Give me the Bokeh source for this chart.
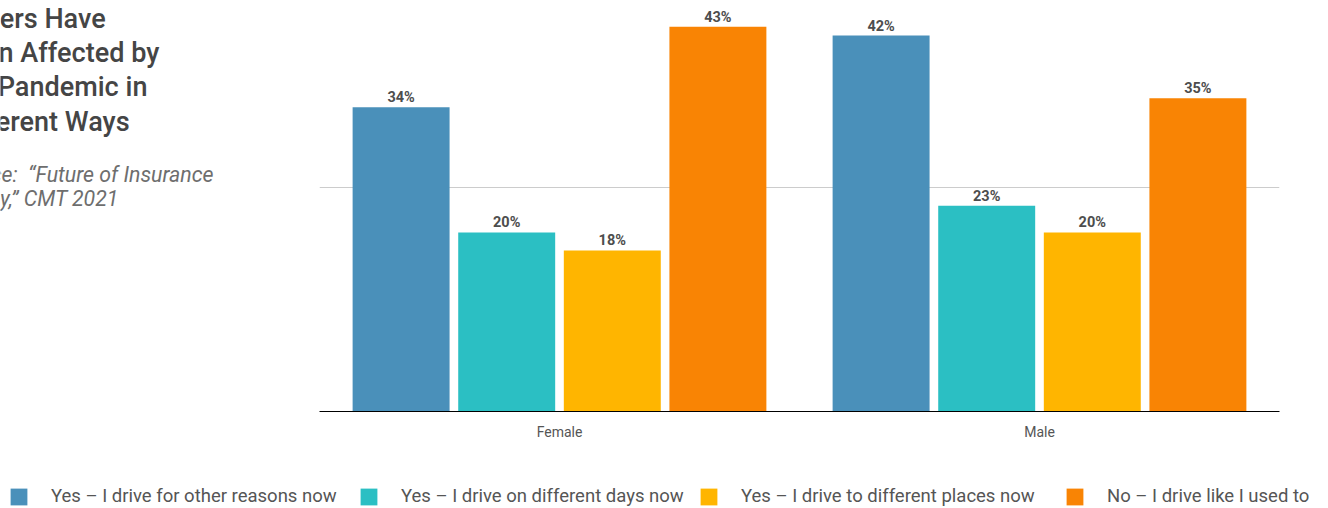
from bokeh.plotting import figure
from bokeh.layouts import column, row
from bokeh.models import (ColumnDataSource, FactorRange, Range1d, Label, Legend,
                          LegendItem, FixedTicker, Grid)
from bokeh.transform import dodge
from bokeh.core.properties import value
from bokeh.embed import file_html
from bokeh.resources import INLINE

# ---- data -------------------------------------------------------------
genders = ["Female", "Male"]
series_names = [
    "Yes \u2013 I drive for other reasons now",
    "Yes \u2013 I drive on different days now",
    "Yes \u2013 I drive to different places now",
    "No \u2013 I drive like I used to",
]
other_reasons = [34, 42]
different_days = [20, 23]
different_places = [18, 20]
like_before = [43, 35]
series_values = [other_reasons, different_days, different_places, like_before]
series_colors = ["#4a90ba", "#2bbfc3", "#ffb500", "#f98404"]
grid_ticks = [25]

title_lines = ["Drivers Have", "Been Affected by", "the Pandemic in", "Different Ways"]
source_lines = ["Source: \u00a0\u201cFuture of Insurance", "Survey,\u201d CMT 2021"]

FONT = "Roboto"
TITLE_FONT = "'Roboto Medium', Roboto"
TEXT_COLOR = "#555555"

# ---- sizes of the three panels --------------------------------------------
TOTAL_W, TOTAL_H = 1328, 508
LEFT_W = 319          # column holding title and source
TOP_H = 460           # chart (411 px frame + axis labels)
FRAME_H = 411
RIGHT_PAD = 49
SIDE_BOTTOM = 420     # where the text column's frame ends inside the row


def bare(fig):
    fig.outline_line_color = None
    fig.background_fill_color = "white"
    fig.border_fill_color = "white"
    return fig


NO_BORDER = dict(min_border=0, min_border_left=0, min_border_right=0,
                 min_border_top=0, min_border_bottom=0)

# ---- title / source column ----------------------------------------------
side = bare(figure(width=LEFT_W, height=TOP_H, title=None,
                   x_axis_type=None, y_axis_type=None,
                   x_range=Range1d(0, LEFT_W), y_range=Range1d(0, TOP_H),
                   output_backend="svg", toolbar_location=None, **NO_BORDER))
side.grid.visible = False
for line, base in zip(title_lines, [27, 61.3, 95.6, 130]):
    side.add_layout(Label(x=-48, y=SIDE_BOTTOM - base, x_units="screen", y_units="screen",
                          text=line, text_font=TITLE_FONT, text_font_size="27px",
                          text_color="#454545", text_baseline="alphabetic"))
for line, base in zip(source_lines, [183, 207]):
    side.add_layout(Label(x=-52, y=SIDE_BOTTOM - base, x_units="screen", y_units="screen",
                          text=line, text_font=FONT, text_font_size="21.3px",
                          text_font_style="italic", text_color="#6e6e6e",
                          text_baseline="alphabetic"))

# ---- grouped bar chart ---------------------------------------------------
p = bare(figure(
    x_range=FactorRange(*genders, range_padding=0),
    y_range=Range1d(0, 45.92), title=None, y_axis_type=None,
    width=TOTAL_W - LEFT_W, height=TOP_H,
    min_border=0, min_border_left=0, min_border_right=RIGHT_PAD,
    min_border_top=0, min_border_bottom=TOP_H - FRAME_H,
    output_backend="svg", toolbar_location=None,
))

data = {"gender": genders}
for i, vals in enumerate(series_values):
    data[f"s{i}"] = vals
    data[f"t{i}"] = [f"{v}%" for v in vals]
src = ColumnDataSource(data)

# horizontal guide at 25 %
p.add_layout(Grid(dimension=1, ticker=FixedTicker(ticks=grid_ticks),
                  grid_line_color="#cccccc", grid_line_width=1))
p.xgrid.visible = False

offsets = [-0.33, -0.11, 0.11, 0.33]
BAR_W = 0.202
for i, off in enumerate(offsets):
    xs = dodge("gender", off, range=p.x_range)
    p.vbar(x=xs, top=f"s{i}", width=BAR_W, source=src,
           fill_color=series_colors[i], line_color=None)
    p.text(x=xs, y=f"s{i}", text=f"t{i}", source=src,
           text_align="center", text_baseline="bottom", y_offset=-1,
           text_font=value(FONT), text_font_style="bold",
           text_font_size="14.5px", text_color="#4d4d4d")

xa = p.xaxis[0]
xa.axis_line_color = "black"
xa.axis_line_width = 1
xa.major_tick_line_color = None
xa.minor_tick_line_color = None
xa.major_tick_out = 0
xa.major_label_standoff = 12
xa.major_label_text_font = FONT
xa.major_label_text_font_size = "14px"
xa.major_label_text_color = TEXT_COLOR

# ---- legend strip ----------------------------------------------------------
# The strip shares the category axis; its value range sits far above the
# data, so only the legend entries show.
LEG_H = TOTAL_H - TOP_H
strip = bare(figure(width=TOTAL_W, height=LEG_H, title=None,
                    x_axis_type=None, y_axis_type=None,
                    x_range=p.x_range, y_range=Range1d(1000, 1001),
                    output_backend="svg", toolbar_location=None, **NO_BORDER))
strip.grid.visible = False
legend_x = [8, 358, 698, 1064]
for i, gx in enumerate(legend_x):
    xs = dodge("gender", offsets[i], range=p.x_range)
    r = strip.vbar(x=xs, top=f"s{i}", width=BAR_W, source=src,
                   fill_color=series_colors[i], line_color=None)
    lg = Legend(items=[LegendItem(label=series_names[i], renderers=[r])],
                location=(gx, 1),
                orientation="horizontal", glyph_width=21, glyph_height=21,
                label_standoff=22, label_height=21, label_width=10,
                label_text_font=FONT, label_text_font_size="18.5px",
                label_text_color=TEXT_COLOR, label_text_baseline="middle",
                border_line_color=None, background_fill_alpha=0,
                padding=0, margin=0, spacing=0)
    strip.add_layout(lg)

layout = column(row(side, p, spacing=0), strip, spacing=0)
open("out.html", "w").write(file_html(layout, INLINE))
